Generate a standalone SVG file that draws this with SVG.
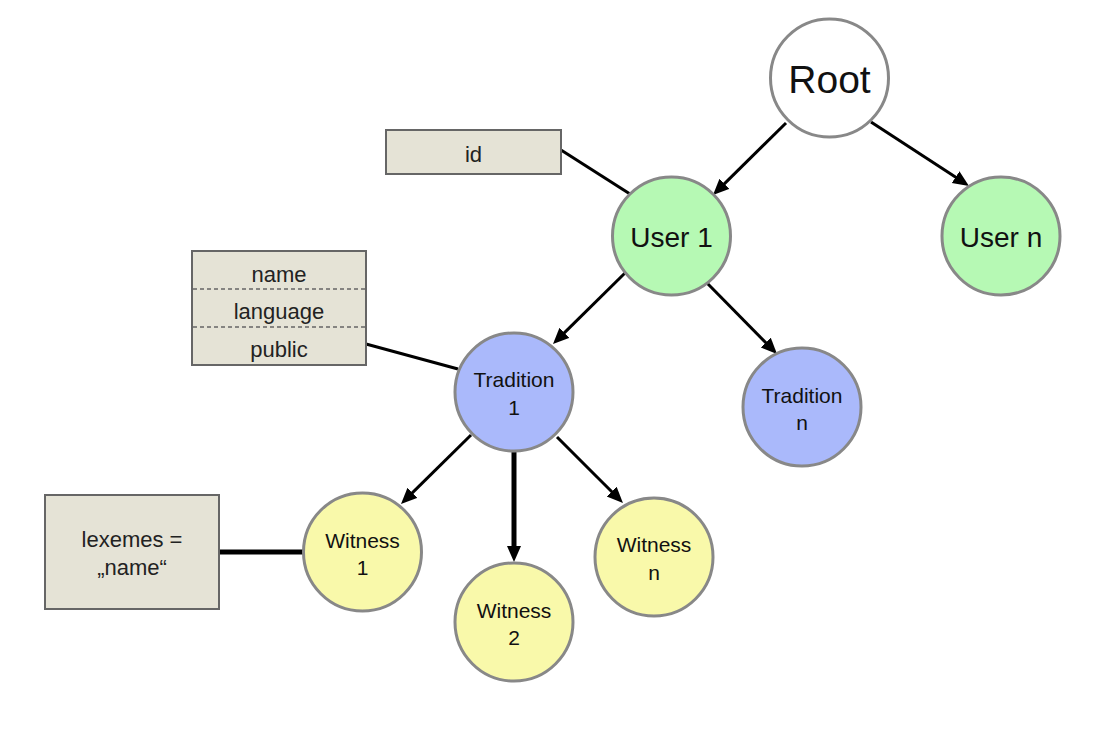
<svg xmlns="http://www.w3.org/2000/svg" width="1116" height="732" viewBox="0 0 1116 732">
<style>
  .n circle { stroke: #888888; stroke-width: 3; }
  .root circle { fill: #ffffff; }
  .user circle { fill: #b6f9b4; }
  .trad circle { fill: #aab9fb; }
  .wit circle { fill: #f9f9aa; }
  text { font-family: "Liberation Sans", Arial, sans-serif; fill: #111111; text-anchor: middle; }
  .box rect { fill: #e5e3d6; stroke: #666666; stroke-width: 2; }
  .box text { font-size: 22px; fill: #222222; }
  .sep { stroke: #666666; stroke-width: 1.5; stroke-dasharray: 4 3; }
  .e { stroke: #000000; stroke-width: 3; fill: none; }
  .thick { stroke-width: 5; }
  .arr { marker-end: url(#ah); }
</style>
<defs>
  <marker id="ah" markerUnits="userSpaceOnUse" markerWidth="17" markerHeight="15" refX="8" refY="7" orient="auto">
    <path d="M0,0 L16,7 L0,14 z" fill="#000000"/>
  </marker>
</defs>
<rect width="1116" height="732" fill="#ffffff"/>
<g id="connectors">
  <line class="e arr" x1="786" y1="123" x2="718.7" y2="189.4"/>
  <line class="e arr" x1="871" y1="122" x2="962.3" y2="181.6"/>
  <line class="e arr" x1="625" y1="273" x2="558.7" y2="338.4"/>
  <line class="e arr" x1="707" y1="283" x2="771.4" y2="348.3"/>
  <line class="e arr" x1="471" y1="435" x2="406.7" y2="498.4"/>
  <line class="e thick arr" x1="514" y1="452" x2="514" y2="554"/>
  <line class="e arr" x1="557" y1="437" x2="617.3" y2="497.3"/>
  <line class="e" x1="561" y1="150" x2="630" y2="194"/>
  <line class="e" x1="366" y1="344" x2="458" y2="369"/>
  <line class="e thick" x1="219" y1="552" x2="303" y2="552"/>
</g>
<g id="root" class="n root">
  <circle cx="829.5" cy="78" r="59"/>
  <text x="829.5" y="93" font-size="39">Root</text>
</g>
<g id="user1" class="n user">
  <circle cx="671.5" cy="236" r="59"/>
  <text x="671.5" y="247" font-size="28">User 1</text>
</g>
<g id="usern" class="n user">
  <circle cx="1001" cy="236" r="59"/>
  <text x="1001" y="247" font-size="28">User n</text>
</g>
<g id="tradition1" class="n trad">
  <circle cx="514" cy="392" r="59"/>
  <text x="514" y="387" font-size="21">Tradition</text>
  <text x="514" y="415" font-size="21">1</text>
</g>
<g id="traditionn" class="n trad">
  <circle cx="802" cy="407" r="59"/>
  <text x="802" y="403" font-size="21">Tradition</text>
  <text x="802" y="430" font-size="21">n</text>
</g>
<g id="witness1" class="n wit">
  <circle cx="362.5" cy="552" r="59"/>
  <text x="362.5" y="548" font-size="21">Witness</text>
  <text x="362.5" y="575" font-size="21">1</text>
</g>
<g id="witness2" class="n wit">
  <circle cx="514" cy="622" r="59"/>
  <text x="514" y="618" font-size="21">Witness</text>
  <text x="514" y="645" font-size="21">2</text>
</g>
<g id="witnessn" class="n wit">
  <circle cx="654" cy="557" r="59"/>
  <text x="654" y="552" font-size="21">Witness</text>
  <text x="654" y="580" font-size="21">n</text>
</g>
<g id="box-id" class="box">
  <rect x="386" y="130" width="175" height="44"/>
  <text x="473.5" y="162">id</text>
</g>
<g id="box-props" class="box">
  <rect x="192" y="251" width="174" height="114"/>
  <line class="sep" x1="193" y1="289" x2="365" y2="289"/>
  <line class="sep" x1="193" y1="327" x2="365" y2="327"/>
  <text x="279" y="282">name</text>
  <text x="279" y="319">language</text>
  <text x="279" y="357">public</text>
</g>
<g id="box-lexemes" class="box">
  <rect x="45" y="495" width="174" height="114"/>
  <text x="132" y="547" font-size="23">lexemes =</text>
  <text x="132" y="575" font-size="23">„name“</text>
</g>
</svg>
